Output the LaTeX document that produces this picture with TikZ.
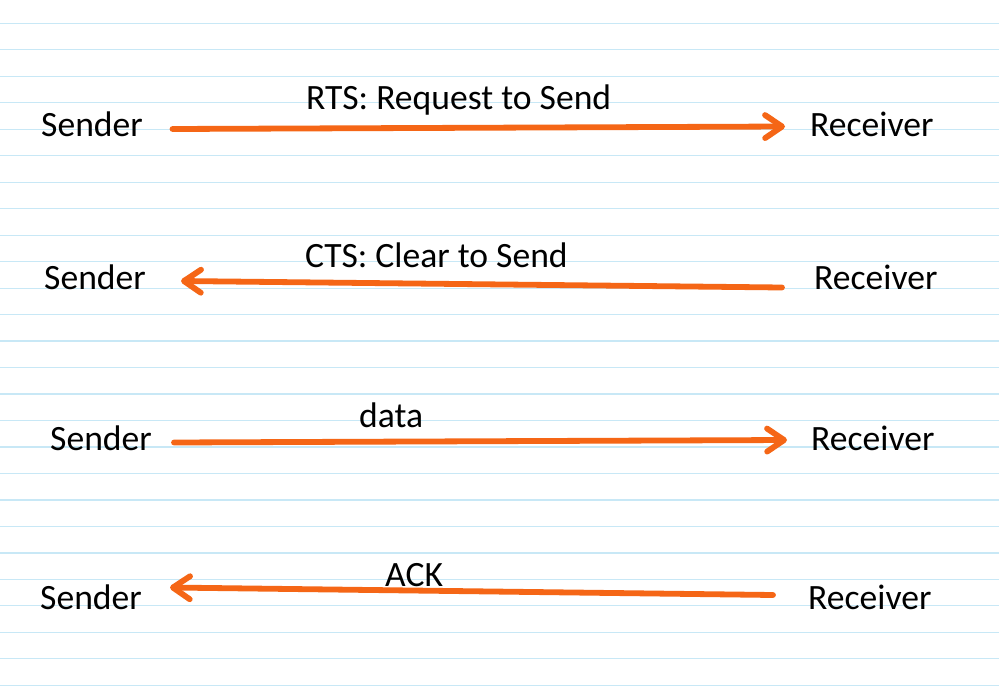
\documentclass[tikz,border=0pt]{standalone}
\usepackage{fontspec}
\setmainfont{Carlito}
\usetikzlibrary{arrows.meta}
\definecolor{arrowor}{RGB}{245,102,22}
\definecolor{ruleblue}{RGB}{200,232,246}
\tikzset{
  txt/.style={anchor=base west, inner sep=0pt, font=\fontsize{35.6}{42}\selectfont, text=black},
  msg/.style={draw=arrowor, line width=5.8pt, line cap=round,
    -{Straight Barb[length=17pt, width=23pt, line width=5.8pt, round]}},
  rule/.style={draw=ruleblue, line width=1.2pt}
}
\begin{document}
\begin{tikzpicture}[x=1pt, y=-1pt]
\useasboundingbox (0,0) rectangle (999,688);
\fill[white] (0,0) rectangle (999,688);
\foreach \k in {0,...,25}{
  \draw[rule] (0,{23.3+26.48*\k}) -- (999,{23.3+26.48*\k});
}
% row 1
\node[txt] (s1) at (41,136) {Sender};
\node[txt] (r1) at (810,136) {Receiver};
\node[txt] (l1) at (306,109) {RTS: Request to Send};
\coordinate (a1s) at (172.5,129);
\coordinate (a1e) at (785,126.5);
\draw[msg] (a1s) -- (a1e);
% row 2
\node[txt] (s2) at (44,289) {Sender};
\node[txt] (r2) at (814,289) {Receiver};
\node[txt] (l2) at (305,267.5) {CTS: Clear to Send};
\coordinate (a2s) at (782,287.5);
\coordinate (a2e) at (181,281);
\draw[msg] (a2s) -- (a2e);
% row 3
\node[txt] (s3) at (50,450) {Sender};
\node[txt] (r3) at (811,450) {Receiver};
\node[txt] (l3) at (359,427) {data};
\coordinate (a3s) at (174,442.5);
\coordinate (a3e) at (787,440);
\draw[msg] (a3s) -- (a3e);
% row 4
\node[txt] (s4) at (40,609) {Sender};
\node[txt] (r4) at (808,609) {Receiver};
\node[txt] (l4) at (385,586) {ACK};
\coordinate (a4s) at (773,595);
\coordinate (a4e) at (170,587.5);
\draw[msg] (a4s) -- (a4e);
\end{tikzpicture}
\end{document}
